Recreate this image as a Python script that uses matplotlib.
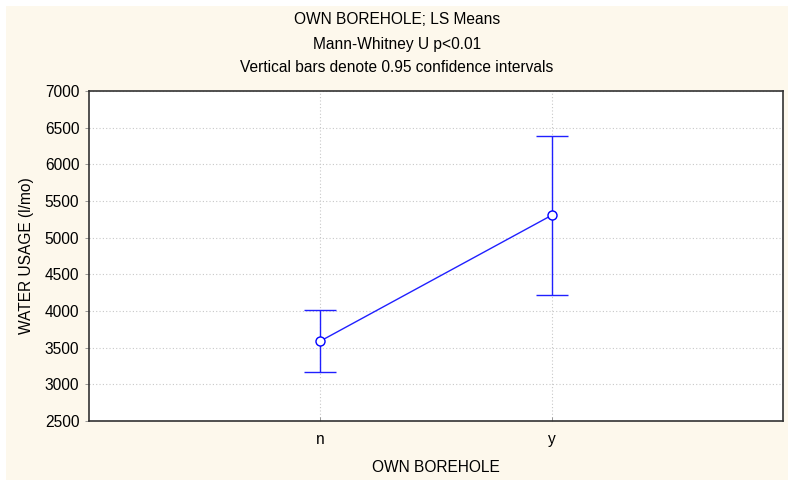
import matplotlib
matplotlib.use("Agg")
import matplotlib.pyplot as plt
from matplotlib.patches import Rectangle

categories = ["n", "y"]
means = [3590, 5305]
ci_upper = [4015, 6390]
ci_lower = [3165, 4215]
yticks = [2500, 3000, 3500, 4000, 4500, 5000, 5500, 6000, 6500, 7000]

plt.rcParams['font.family'] = ['Liberation Sans', 'DejaVu Sans']
FS = 11.2

fig = plt.figure(figsize=(7.88, 4.8), dpi=100, facecolor='white')
fig.patches.append(Rectangle((6/788, 0), 1 - 6/788, 1 - 6/480, transform=fig.transFigure,
                             facecolor='#FDF8EC', edgecolor='none', zorder=-10))

ax = fig.add_axes([89/788, 1 - 421/480, (783-89)/788, (421-91)/480])
ax.set_facecolor('white')

x = list(range(len(categories)))
yerr = [[m - l for m, l in zip(means, ci_lower)], [u - m for m, u in zip(means, ci_upper)]]
ax.errorbar(x, means, yerr=yerr, color='#2020FF', lw=1, capsize=11.5, capthick=1,
            marker='o', markersize=6.5, markerfacecolor='white', markeredgecolor='#0000FF',
            markeredgewidth=1, zorder=3)

ax.set_xlim(-1, 2)
ax.set_ylim(2500, 7000)
ax.set_yticks(yticks)
ax.set_xticks(x)
ax.set_xticklabels(categories)
ax.grid(True, linestyle=(0, (1, 2)), color='#C8C8C8', lw=0.8)
ax.tick_params(axis='y', direction='out', length=3, width=0.6, color='#888888', labelsize=FS, pad=4)
ax.tick_params(axis='x', direction='in', length=3, width=0.6, color='#888888', labelsize=FS, pad=8)
for s in ax.spines.values():
    s.set_color('#333333')
    s.set_linewidth(1.2)

ax.set_ylabel('WATER USAGE (l/mo)', fontsize=FS, labelpad=8)
ax.set_xlabel('OWN BOREHOLE', fontsize=FS, labelpad=9)

cx = 0.5 + 3/788
fig.text(cx, 1 - 20/480, 'OWN BOREHOLE; LS Means', ha='center', va='center', fontsize=FS)
fig.text(cx, 1 - 44/480, 'Mann-Whitney U p<0.01', ha='center', va='center', fontsize=FS)
fig.text(cx, 1 - 67/480, 'Vertical bars denote 0.95 confidence intervals', ha='center', va='center', fontsize=FS)

fig.savefig('out.png', dpi=100, facecolor=fig.get_facecolor())
